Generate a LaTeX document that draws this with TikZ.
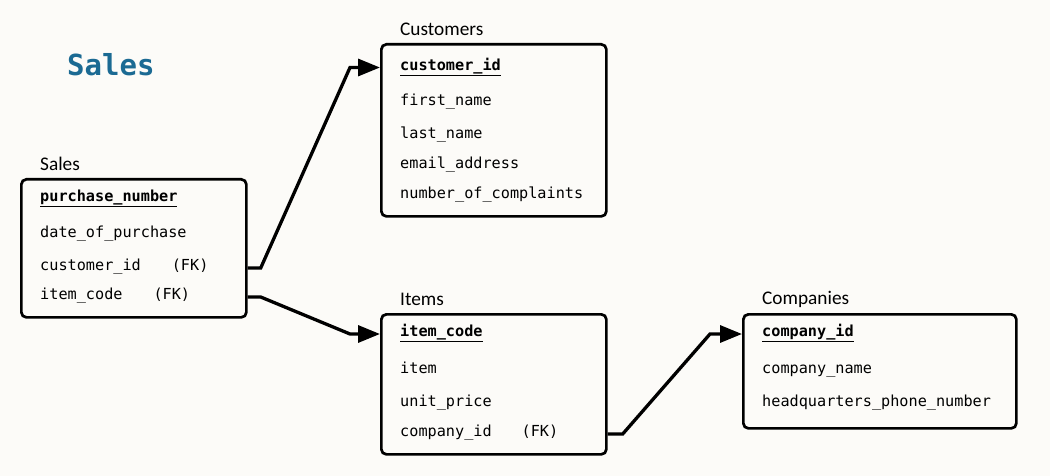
\documentclass[tikz,border=0pt]{standalone}
\usepackage{fontspec}
\setmainfont{Carlito}
\setmonofont{DejaVu Sans Mono}
\usetikzlibrary{arrows.meta,calc}
\definecolor{paper}{HTML}{FCFBF8}
\definecolor{titleblue}{HTML}{1B6A93}

\begin{document}
\begin{tikzpicture}[
				x=1pt,y=-1pt,
				table/.style={draw,line width=2.7pt,rounded corners=5pt,anchor=north west,inner sep=0pt},
				tname/.style={anchor=west,inner sep=0pt,font=\fontsize{19.3}{21}\selectfont},
				field/.style={anchor=west,inner sep=0pt,text height=1.1ex,text depth=0pt,font=\ttfamily\fontsize{15.2}{17}\selectfont},
				key/.style={field,font=\ttfamily\bfseries\fontsize{15.2}{17}\selectfont},
				link/.style={line width=3.3pt,-{Triangle[length=22pt,width=17pt]}}]
				
				% Background
				\fill[paper] (0,0) rectangle (1050,476);
				\useasboundingbox (0,0) rectangle (1050,476);
				
				% Title
				\node[anchor=west,inner sep=0pt,text=titleblue,font=\ttfamily\bfseries\fontsize{29}{32}\selectfont] (title) at (67,65) {Sales};
				
				% Tables
				\node[table,minimum width=225pt,minimum height=138pt] (sales) at (20,178) {};
				\node[table,minimum width=225pt,minimum height=172pt] (cust) at (380,43) {};
				\node[table,minimum width=225pt,minimum height=140pt] (items) at (380,313) {};
				\node[table,minimum width=273pt,minimum height=114pt] (comp) at (742,313) {};
				
				\node[tname] (salesname) at ($(sales.north west)+(20,-14)$) {Sales};
				\node[tname] (custname) at ($(cust.north west)+(20,-14)$) {Customers};
				\node[tname] (itemsname) at ($(items.north west)+(20,-14)$) {Items};
				\node[tname] (compname) at ($(comp.north west)+(20,-14)$) {Companies};
				
				% Sales fields
				\node[key] (s1) at (40,199) {\underline{purchase\_number}};
				\node[field] (s2) at (40,235) {date\_of\_purchase};
				\node[field] (s3) at (40,268) {customer\_id\hspace{31pt}(FK)};
				\node[field] (s4) at (40,297) {item\_code\hspace{31pt}(FK)};
				
				% Customers fields
				\node[key] (c1) at (400,67.5) {\underline{customer\_id}};
				\node[field] (c2) at (400,103) {first\_name};
				\node[field] (c3) at (400,136) {last\_name};
				\node[field] (c4) at (400,166) {email\_address};
				\node[field] (c5) at (400,196) {number\_of\_complaints};
				
				% Items fields
				\node[key] (i1) at (400,334) {\underline{item\_code}};
				\node[field] (i2) at (400,371) {item};
				\node[field] (i3) at (400,404) {unit\_price};
				\node[field] (i4) at (400,434) {company\_id\hspace{30pt}(FK)};
				
				% Companies fields
				\node[key] (p1) at (762,334) {\underline{company\_id}};
				\node[field] (p2) at (762,371) {company\_name};
				\node[field] (p3) at (762,404) {headquarters\_phone\_number};
				
				% Links
				\draw[link] (sales.east |- s3) -- ++(13,0) -- ($(cust.west |- c1)+(-30,0)$) -- (cust.west |- c1);
				\draw[link] (sales.east |- s4) -- ++(13,0) -- ($(items.west |- i1)+(-30,0)$) -- (items.west |- i1);
				\draw[link] (items.east |- i4) -- ++(15,0) -- ($(comp.west |- p1)+(-32,0)$) -- (comp.west |- p1);
			\end{tikzpicture}
\end{document}
